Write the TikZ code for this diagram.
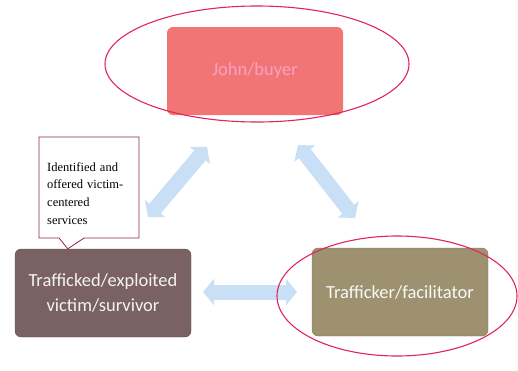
\documentclass[tikz,border=0pt]{standalone}
\usepackage{fontspec}
\setmainfont{Carlito}
\newfontfamily\notefont{Liberation Serif}
\usetikzlibrary{arrows.meta,shapes.callouts}

\definecolor{buyerfill}{HTML}{F27575}
\definecolor{buyertext}{HTML}{F6A2C4}
\definecolor{victimfill}{HTML}{7A6262}
\definecolor{traffill}{HTML}{9D916F}
\definecolor{ringred}{HTML}{E0245E}
\definecolor{notered}{HTML}{8E2846}
\definecolor{arrowblue}{HTML}{C9DFF6}

\begin{document}
\begin{tikzpicture}[x=1pt,y=-1pt,
    box/.style={rounded corners=6pt,minimum width=176pt,minimum height=88pt,
      align=center,font=\fontsize{18.5}{25}\selectfont},
    ring/.style={draw=ringred,line width=1.1pt},
    fatarrow/.style={draw=arrowblue,line width=15pt,
      {Triangle[width=26pt,length=11pt]}-{Triangle[width=26pt,length=11pt]}}]
    \useasboundingbox (0,0) rectangle (518,370);

    % the three parties
    \node[box,fill=buyerfill,text=buyertext] (buyer) at (255,71) {John/buyer};
    \node[box,fill=victimfill,draw=victimfill!80!black,text=white!92!victimfill] (victim) at (103,293)
      {Trafficked/exploited\\victim/survivor};
    \node[box,fill=traffill,draw=traffill!85!black,text=white!94!traffill] (trafficker) at (400,292)
      {Trafficker/facilitator};

    % arrows between them
    \coordinate (vb1) at (148,217);
    \coordinate (vb2) at (207,147);
    \coordinate (bt1) at (298,145);
    \coordinate (bt2) at (355,218);
    \coordinate (vt1) at (203,292);
    \coordinate (vt2) at (297,292);
    \foreach \a/\b in {vb1/vb2,bt1/bt2,vt1/vt2}
      \draw[fatarrow] (\a) -- (\b);

    % note on the victim
    \node[rectangle callout,draw=notered,fill=white,line width=0.8pt,
      callout absolute pointer={([xshift=53pt]victim.north west)},
      callout pointer width=25pt,
      minimum width=100pt,minimum height=101pt] (note) at (89,187.5) {};
    \node[anchor=west,inner sep=0pt,text width=86pt,align=left,
      font=\notefont\fontsize{12.5}{17.7}\selectfont] (notetext) at (47,193.5)
      {Identified and\\offered victim-\\centered\\services};

    % circled parties
    \draw[ring] (257,64) ellipse (152pt and 58pt);
    \draw[ring] (397,296) ellipse (120pt and 60pt);
\end{tikzpicture}
\end{document}
